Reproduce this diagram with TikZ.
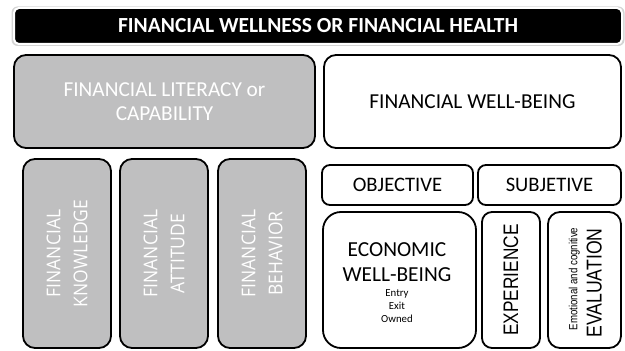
\documentclass[tikz,border=0pt]{standalone}
\usepackage{fontspec}
\setmainfont{Carlito}
\newfontfamily\osans[FakeStretch=0.92]{Open Sans}
\newfontfamily\narrowsans[FakeStretch=0.82]{Liberation Sans}
\definecolor{boxgray}{HTML}{BFBFC0}
\definecolor{glow}{HTML}{D4D4D4}
\newcommand{\fsz}[2]{\fontsize{#1}{#2}\selectfont}
\begin{document}
\begin{tikzpicture}[x=1pt,y=1pt,
  panel/.style={draw=black, line width=1.8pt, rounded corners=#1, inner sep=0pt, align=center},
  grayp/.style={panel=#1, fill=boxgray, text=white},
  whitep/.style={panel=#1, fill=white, text=black},
  vlabel/.style={rotate=90, align=center, inner sep=0pt}]
\useasboundingbox (0,0) rectangle (625,351);

% title bar with its soft outline
\fill[glow, rounded corners=6pt] (11.5,305) rectangle (624.5,344.5);
\node[draw=white, fill=black, line width=2pt, rounded corners=5pt,
      minimum width=608pt, minimum height=36pt, inner sep=0pt, text=white,
      font=\fsz{21.5}{24}\bfseries]
  (title) at (318,325) {FINANCIAL WELLNESS OR FINANCIAL HEALTH};

% upper row
\node[grayp=12pt, minimum width=301pt, minimum height=93pt, font=\fsz{21.3}{24}] (lit) at (164.5,249.5)
  {FINANCIAL LITERACY or\\CAPABILITY};
\node[whitep=12pt, minimum width=297pt, minimum height=93pt, font=\fsz{21.3}{24}] (fwb) at (472.5,249.5)
  {FINANCIAL WELL-BEING};

% capability components
\node[grayp=12pt, minimum width=88pt, minimum height=189pt] (know) at (67,97.5) {};
\node[grayp=12pt, minimum width=88pt, minimum height=189pt] (att) at (164,97.5) {};
\node[grayp=12pt, minimum width=88pt, minimum height=189pt] (beh) at (262,97.5) {};
\tikzset{vgray/.style={vlabel, text=white, font=\osans\fsz{19}{27}}}
\node[vgray] (knowt) at (know.center) {FINANCIAL\\KNOWLEDGE};
\node[vgray] (attt) at (att.center) {FINANCIAL\\ATTITUDE};
\node[vgray] (beht) at (beh.center) {FINANCIAL\\BEHAVIOR};

% well-being components
\node[whitep=8pt, minimum width=151pt, minimum height=40pt, font=\fsz{20.6}{22}] (obj) at (397.5,166)
  {OBJECTIVE};
\node[whitep=8pt, minimum width=143pt, minimum height=40pt, font=\fsz{20.6}{22}] (subj) at (549.5,166)
  {SUBJETIVE};
\node[whitep=18pt, minimum width=153pt, minimum height=136pt] (econ) at (399.5,71) {};
\node[whitep=10pt, minimum width=58pt, minimum height=136pt] (exp) at (511,71) {};
\node[whitep=12pt, minimum width=73pt, minimum height=136pt] (eval) at (584.5,71) {};

% texts of the lower right panels
\tikzset{big/.style={anchor=base, inner sep=0pt, font=\fsz{21.4}{23}},
         small/.style={anchor=base, inner sep=0pt, font=\fsz{10.8}{13}}}
\node[big] (econa) at (397,94.3) {ECONOMIC};
\node[big] (econb) at (397,69.3) {WELL-BEING};
\node[small] (entry) at (397,54.3) {Entry};
\node[small] (exit) at (397,41) {Exit};
\node[small] (owned) at (397,28.3) {Owned};
\node[vlabel, anchor=base, font=\narrowsans\fsz{21}{22}] (expt) at (518,71) {EXPERIENCE};
\node[vlabel, anchor=base, font=\narrowsans\fsz{11.8}{12}] (evals) at (577.3,72) {Emotional and cognitive};
\node[vlabel, anchor=base, font=\narrowsans\fsz{21.5}{22}] (evalt) at (601.7,68) {EVALUATION};
\end{tikzpicture}
\end{document}
